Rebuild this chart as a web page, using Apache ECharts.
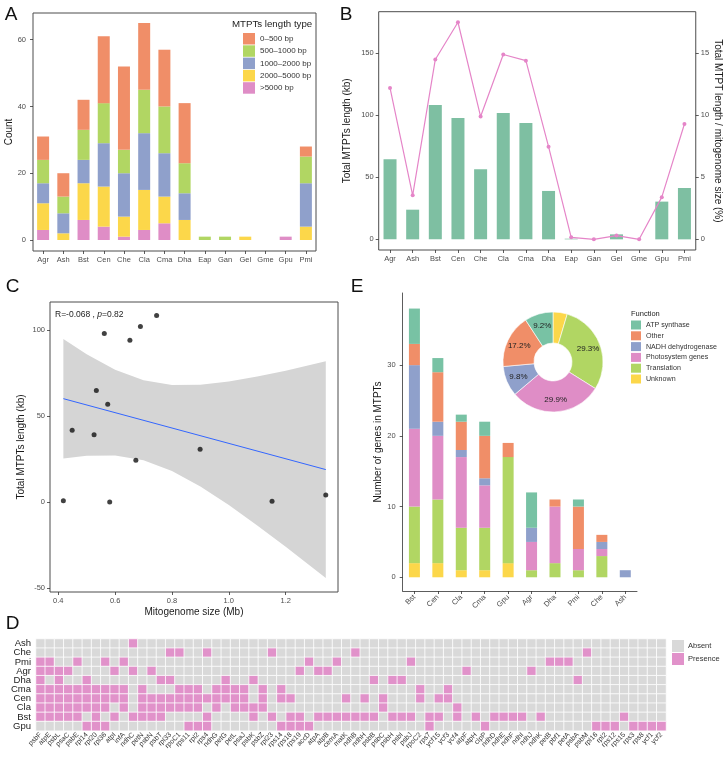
<!DOCTYPE html>
<html>
<head>
<meta charset="utf-8">
<script src="https://cdn.jsdelivr.net/npm/echarts@6/dist/echarts.min.js"></script>
<style>
  html, body { margin: 0; padding: 0; background: #fff; }
  #main { width: 724px; height: 757px; }
</style>
</head>
<body>
<div id="main"></div>
<script>
// ---- A: MTPT count by length class ----
const species = ['Agr', 'Ash', 'Bst', 'Cen', 'Che', 'Cla', 'Cma', 'Dha', 'Eap', 'Gan', 'Gel', 'Gme', 'Gpu', 'Pmi'];
const len0to500 = [7, 7, 9, 20, 25, 20, 17, 18, 0, 0, 0, 0, 0, 3];
const len500to1000 = [7, 5, 9, 12, 7, 13, 14, 9, 1, 1, 0, 0, 0, 8];
const len1000to2000 = [6, 6, 7, 13, 13, 17, 13, 8, 0, 0, 0, 0, 0, 13];
const len2000to5000 = [8, 2, 11, 12, 6, 12, 8, 6, 0, 0, 1, 0, 0, 4];
const lenOver5000 = [3, 0, 6, 4, 1, 3, 5, 0, 0, 0, 0, 0, 1, 0];

// ---- B: total length and share of mitogenome ----
const totalKb = [64.5, 23.9, 108.3, 97.8, 56.5, 101.9, 93.8, 39.0, 0.5, 0, 4.0, 0, 30.4, 41.4];
const ratioPct = [12.2, 3.55, 14.5, 17.5, 9.9, 14.9, 14.4, 7.47, 0.16, 0, 0.3, 0, 3.4, 9.3];

// ---- C: mitogenome size vs MTPT length ----
const mitoSizeMb = [0.418, 0.449, 0.526, 0.534, 0.562, 0.574, 0.581, 0.652, 0.673, 0.689, 0.746, 0.899, 1.152, 1.341];
const mtptKb = [0.8, 41.8, 39.2, 65.0, 98.2, 56.9, 0.0, 94.2, 24.3, 102.3, 108.7, 30.7, 0.4, 4.1];
const fitX = [0.418, 1.341];
const fitY = [60.2, 18.9];
const bandX = [0.418, 0.5, 0.6, 0.7, 0.8, 0.9, 1.0, 1.1, 1.2, 1.341];
const bandUpper = [95.0, 86.1, 77.1, 70.9, 68.1, 68.3, 70.2, 73.1, 76.5, 82.0];
const bandLower = [25.4, 26.9, 27.1, 24.3, 18.1, 9.1, -1.8, -13.7, -26.1, -44.2];

// ---- E: genes in MTPTs by function ----
const geneSpecies = ['Bst', 'Cen', 'Cla', 'Cma', 'Gpu', 'Agr', 'Dha', 'Pmi', 'Che', 'Ash'];
const fnUnknown = [2, 2, 1, 1, 2, 0, 0, 0, 0, 0];
const fnTranslation = [8, 9, 6, 6, 15, 1, 2, 1, 3, 0];
const fnPhotosystem = [11, 9, 10, 6, 0, 4, 8, 3, 1, 0];
const fnNADH = [9, 2, 1, 1, 0, 2, 0, 0, 1, 1];
const fnOther = [3, 7, 4, 6, 2, 0, 1, 6, 1, 0];
const fnATP = [5, 2, 1, 2, 0, 5, 0, 1, 0, 0];

// ---- D: gene presence ----
const genes = ['psbF', 'atpE', 'psbL', 'psaC', 'psbE', 'rpl14', 'rpl20', 'rpl36', 'atpI', 'infA', 'ndhC', 'petN', 'psbN', 'psbT',
  'rpl33', 'rpoC1', 'rps11', 'rpl2', 'rps4', 'ndhG', 'petG', 'petL', 'psaJ', 'psbK', 'psbZ', 'rpl23', 'rps14', 'rps18', 'rps19',
  'accD', 'atpA', 'atpB', 'cemA', 'matK', 'ndhB', 'ndhH', 'psbB', 'psbC', 'psbH', 'psbI', 'psbJ', 'rpoC2', 'rps7', 'ycf15', 'ycf3',
  'ycf4', 'atpF', 'atpH', 'clpP', 'ndhD', 'ndhE', 'ndhF', 'ndhI', 'ndhJ', 'ndhK', 'petB', 'pbf1', 'petA', 'psbA', 'psbM', 'rpl16',
  'rpl2', 'rps12', 'rps15', 'rps3', 'rps8', 'ycf1', 'ycf2'];
const heatRows = ['Ash', 'Che', 'Pmi', 'Agr', 'Dha', 'Cma', 'Cen', 'Cla', 'Bst', 'Gpu'];
const presAsh = ['ndhC'];
const presChe = ['rpl33', 'rpoC1', 'rps4', 'rpl23', 'ndhB', 'psbM'];
const presPmi = ['psbF', 'atpE', 'psbE', 'rpl36', 'infA', 'accD', 'cemA', 'psbJ', 'petB', 'pbf1', 'petA'];
const presAgr = ['psbF', 'atpE', 'psbL', 'psaC', 'atpI', 'ndhC', 'psbN', 'rps19', 'atpA', 'atpB', 'atpF', 'ndhJ'];
const presDha = ['psbF', 'psbL', 'rpl14', 'psbT', 'rpl33', 'petG', 'psbK', 'psbB', 'psbH', 'psbI', 'psbA'];
const presCma = ['psbF', 'atpE', 'psbL', 'psaC', 'psbE', 'rpl14', 'rpl20', 'rpl36', 'atpI', 'infA', 'petN', 'rpoC1', 'rps11',
  'rpl2', 'ndhG', 'petG', 'petL', 'psaJ', 'psbZ', 'rps14', 'rpoC2', 'ycf3'];
const presCen = ['psbF', 'atpE', 'psbL', 'psaC', 'psbE', 'rpl14', 'rpl20', 'rpl36', 'atpI', 'infA', 'petN', 'psbN', 'psbT', 'rpl33',
  'rpoC1', 'rps11', 'rpl2', 'rps4', 'ndhG', 'petG', 'petL', 'psaJ', 'psbZ', 'rps14', 'rps18', 'matK', 'ndhH', 'psbC', 'rpoC2',
  'ycf15', 'ycf3'];
const presCla = ['psbF', 'atpE', 'psbL', 'psaC', 'psbE', 'rpl14', 'rpl20', 'rpl36', 'infA', 'petN', 'psbN', 'psbT', 'rpl33', 'rpoC1',
  'rps11', 'rpl2', 'ndhG', 'petL', 'psaJ', 'psbK', 'psbZ', 'psbC', 'ycf4'];
const presBst = ['psbF', 'atpE', 'psbL', 'psaC', 'psbE', 'rpl20', 'atpI', 'ndhC', 'petN', 'psbN', 'psbT', 'rps4', 'psbK', 'rpl23',
  'rps18', 'rps19', 'atpA', 'atpB', 'cemA', 'matK', 'ndhB', 'ndhH', 'psbB', 'psbH', 'psbI', 'psbJ', 'rps7', 'ycf15', 'ycf4',
  'atpH', 'ndhD', 'ndhE', 'ndhF', 'ndhI', 'ndhK', 'rps15'];
const presGpu = ['rpl14', 'rpl20', 'rpl36', 'rps11', 'rpl2', 'rps4', 'rps14', 'rps18', 'rps19', 'accD', 'rps7', 'clpP', 'rpl16',
  'rpl2', 'rps12', 'rps3', 'rps8', 'ycf1', 'ycf2'];
const presence = [presAsh, presChe, presPmi, presAgr, presDha, presCma, presCen, presCla, presBst, presGpu];

const FONT = 'Liberation Sans, Arial, sans-serif';
const colOrange = '#F08E68', colGreen = '#B1D663', colBlue = '#8FA0CB', colYellow = '#FCD74A', colPink = '#DF8DC6', colTeal = '#78C2A4';

// heatmap cells; a name listed twice marks its second column too
let heatData = [];
presence.forEach((list, r) => {
  const row = genes.map(() => 0);
  list.forEach(name => {
    for (let j = 0; j < genes.length; j++) {
      if (genes[j] === name && row[j] === 0) { row[j] = 1; break; }
    }
  });
  row.forEach((v, c) => heatData.push([c, r, v]));
});

const sum = arr => arr.reduce((a, b) => a + b, 0);

const tickStyle = { show: true, length: 3, lineStyle: { color: '#333', width: 0.8 } };
const labelStyle = { fontSize: 7.5, color: '#4d4d4d', fontFamily: FONT };
const nameStyle = { fontSize: 10, color: '#1a1a1a', fontFamily: FONT };
const boxGrid = { show: true, borderColor: '#4d4d4d', borderWidth: 1, backgroundColor: 'transparent' };
const noLine = { show: false, onZero: false };

function valueAxis(grid, min, max, ticks, extra) {
  return Object.assign({
    gridIndex: grid, type: 'value', min: min, max: max,
    splitLine: { show: false }, axisLine: noLine,
    axisTick: Object.assign({ customValues: ticks }, tickStyle),
    axisLabel: Object.assign({ customValues: ticks, margin: 5 }, labelStyle),
    nameLocation: 'middle', nameTextStyle: nameStyle
  }, extra || {});
}
function catAxis(grid, data, extra) {
  return Object.assign({
    gridIndex: grid, type: 'category', data: data,
    axisLine: noLine,
    axisTick: Object.assign({ alignWithLabel: true }, tickStyle),
    axisLabel: Object.assign({ interval: 0, margin: 5 }, labelStyle)
  }, extra || {});
}

const panelLetter = (t, x, y) => ({
  type: 'text', x: x, y: y,
  style: { text: t, fontSize: 19, fontFamily: FONT, fill: '#111', textVerticalAlign: 'middle', textAlign: 'center' }
});

const option = {
  animation: false,
  textStyle: { fontFamily: FONT },
  grid: [
    Object.assign({ left: 33, top: 13, width: 283, height: 238 }, boxGrid),
    Object.assign({ left: 378.7, top: 11.7, width: 317.3, height: 238.3 }, boxGrid),
    Object.assign({ left: 50, top: 302, width: 288, height: 290 }, boxGrid),
    { left: 402.7, top: 293, width: 234.3, height: 298 },
    { left: 36, top: 639, width: 630, height: 91.7 }
  ],
  xAxis: [
    catAxis(0, species),
    catAxis(1, species),
    valueAxis(2, 0.371, 1.384, [0.4, 0.6, 0.8, 1.0, 1.2], {
      name: 'Mitogenome size (Mb)', nameGap: 15,
      axisLabel: Object.assign({ customValues: [0.4, 0.6, 0.8, 1.0, 1.2], margin: 5, formatter: v => v.toFixed(1) }, labelStyle)
    }),
    catAxis(3, geneSpecies, {
      axisLine: { show: true, onZero: false, lineStyle: { color: '#333', width: 0.8 } },
      axisLabel: Object.assign({ interval: 0, rotate: 45, margin: 5 }, labelStyle)
    }),
    {
      gridIndex: 4, type: 'category', data: genes,
      axisLine: noLine, axisTick: { show: false }, splitLine: { show: false },
      axisLabel: { interval: 0, rotate: 45, margin: 3, fontSize: 7, color: '#333', fontFamily: FONT }
    }
  ],
  yAxis: [
    valueAxis(0, -3.3, 68, [0, 20, 40, 60], { name: 'Count', nameGap: 14, axisLabel: Object.assign({ customValues: [0, 20, 40, 60], margin: 7 }, labelStyle) }),
    valueAxis(1, -8.6, 183.5, [0, 50, 100, 150], { name: 'Total MTPTs length (kb)', nameGap: 26 }),
    valueAxis(1, -0.86, 18.35, [0, 5, 10, 15], { position: 'right', name: 'Total MTPT length / mitogenome size (%)', nameRotate: -90, nameGap: 11 }),
    valueAxis(2, -52.4, 116.5, [-50, 0, 50, 100], { name: 'Total MTPTs length (kb)', nameGap: 24 }),
    valueAxis(3, -1.94, 40.2, [0, 10, 20, 30], {
      name: 'Number of genes in MTPTs', nameGap: 19,
      axisLine: { show: true, onZero: false, lineStyle: { color: '#333', width: 0.8 } },
      axisLabel: Object.assign({ customValues: [0, 10, 20, 30], margin: 7 }, labelStyle)
    }),
    {
      gridIndex: 4, type: 'category', data: heatRows, inverse: true,
      axisLine: noLine, axisTick: { show: false }, splitLine: { show: false },
      axisLabel: { interval: 0, margin: 5, fontSize: 9.5, color: '#222', fontFamily: FONT }
    }
  ],
  legend: [
    {
      data: ['0–500 bp', '500–1000 bp', '1000–2000 bp', '2000–5000 bp', '>5000 bp'],
      orient: 'vertical', left: 243, top: 33, padding: 0, icon: 'rect', itemWidth: 12, itemHeight: 11.5, itemGap: 0.8,
      selectedMode: false, textStyle: { fontSize: 8, color: '#333', fontFamily: FONT }
    },
    {
      data: ['ATP synthase', 'Other', 'NADH dehydrogenase', 'Photosystem genes', 'Translation', 'Unknown'],
      orient: 'vertical', left: 631, top: 320.5, padding: 0, icon: 'rect', itemWidth: 10, itemHeight: 9, itemGap: 1.8,
      selectedMode: false, textStyle: { fontSize: 7.1, color: '#333', fontFamily: FONT }
    }
  ],
  visualMap: [{
    type: 'piecewise', seriesIndex: 17, dimension: 2,
    pieces: [{ value: 0, label: 'Absent', color: '#D9D9D9' }, { value: 1, label: 'Presence', color: '#E192CA' }],
    orient: 'vertical', inverse: true, align: 'left', left: 672, top: 640, padding: 0, itemWidth: 12, itemHeight: 12, itemGap: 1,
    itemSymbol: 'rect', textGap: 4, selectedMode: false, textStyle: { fontSize: 7.5, color: '#333', fontFamily: FONT }
  }],
  graphic: [
    panelLetter('A', 11, 15),
    panelLetter('B', 346, 15),
    panelLetter('C', 12.5, 287),
    panelLetter('E', 357, 287),
    panelLetter('D', 12.5, 624),
    { type: 'text', left: 232, top: 19, style: { text: 'MTPTs length type', fontSize: 9.7, fill: '#222', fontFamily: FONT } },
    { type: 'text', left: 631, top: 309.5, style: { text: 'Function', fontSize: 7.5, fill: '#222', fontFamily: FONT } },
    {
      type: 'text', left: 55, top: 310,
      style: {
        text: '{n|R=-0.068 , }{i|p}{n|=0.82}',
        rich: { n: { fontSize: 8.5, fill: '#222', fontFamily: FONT }, i: { fontSize: 8.5, fill: '#222', fontStyle: 'italic', fontFamily: FONT } }
      }
    }
  ],
  series: [
    // A (0-4)
    { name: '>5000 bp', type: 'bar', stack: 'a', xAxisIndex: 0, yAxisIndex: 0, barWidth: 12, data: lenOver5000, itemStyle: { color: colPink } },
    { name: '2000–5000 bp', type: 'bar', stack: 'a', xAxisIndex: 0, yAxisIndex: 0, barWidth: 12, data: len2000to5000, itemStyle: { color: colYellow } },
    { name: '1000–2000 bp', type: 'bar', stack: 'a', xAxisIndex: 0, yAxisIndex: 0, barWidth: 12, data: len1000to2000, itemStyle: { color: colBlue } },
    { name: '500–1000 bp', type: 'bar', stack: 'a', xAxisIndex: 0, yAxisIndex: 0, barWidth: 12, data: len500to1000, itemStyle: { color: colGreen } },
    { name: '0–500 bp', type: 'bar', stack: 'a', xAxisIndex: 0, yAxisIndex: 0, barWidth: 12, data: len0to500, itemStyle: { color: colOrange } },
    // B (5-6)
    { type: 'bar', xAxisIndex: 1, yAxisIndex: 1, barWidth: 13, data: totalKb, itemStyle: { color: '#7EBFA2' } },
    {
      type: 'line', xAxisIndex: 1, yAxisIndex: 2, data: ratioPct, symbol: 'circle', symbolSize: 4,
      lineStyle: { color: '#E585C8', width: 1.2 }, itemStyle: { color: '#E585C8' }
    },
    // C (7-9)
    {
      type: 'custom', xAxisIndex: 2, yAxisIndex: 3, data: [[0.8, 30]], silent: true, z: 1,
      renderItem: (params, api) => {
        const pts = [];
        bandX.forEach((x, i) => pts.push(api.coord([x, bandUpper[i]])));
        for (let i = bandX.length - 1; i >= 0; i--) pts.push(api.coord([bandX[i], bandLower[i]]));
        return { type: 'polygon', shape: { points: pts }, style: { fill: '#D5D5D5' } };
      }
    },
    {
      type: 'line', xAxisIndex: 2, yAxisIndex: 3, data: fitX.map((x, i) => [x, fitY[i]]), symbol: 'none', z: 2,
      lineStyle: { color: '#3366FF', width: 1 }
    },
    {
      type: 'scatter', xAxisIndex: 2, yAxisIndex: 3, data: mitoSizeMb.map((x, i) => [x, mtptKb[i]]), symbolSize: 5, z: 3,
      itemStyle: { color: '#111' }
    },
    // E (10-16)
    { name: 'Unknown', type: 'bar', stack: 'e', xAxisIndex: 3, yAxisIndex: 4, barWidth: 11, data: fnUnknown, itemStyle: { color: colYellow } },
    { name: 'Translation', type: 'bar', stack: 'e', xAxisIndex: 3, yAxisIndex: 4, barWidth: 11, data: fnTranslation, itemStyle: { color: colGreen } },
    { name: 'Photosystem genes', type: 'bar', stack: 'e', xAxisIndex: 3, yAxisIndex: 4, barWidth: 11, data: fnPhotosystem, itemStyle: { color: colPink } },
    { name: 'NADH dehydrogenase', type: 'bar', stack: 'e', xAxisIndex: 3, yAxisIndex: 4, barWidth: 11, data: fnNADH, itemStyle: { color: colBlue } },
    { name: 'Other', type: 'bar', stack: 'e', xAxisIndex: 3, yAxisIndex: 4, barWidth: 11, data: fnOther, itemStyle: { color: colOrange } },
    { name: 'ATP synthase', type: 'bar', stack: 'e', xAxisIndex: 3, yAxisIndex: 4, barWidth: 11, data: fnATP, itemStyle: { color: colTeal } },
    {
      type: 'pie', center: [553, 362], radius: [19, 50], startAngle: 90, clockwise: true, percentPrecision: 1,
      itemStyle: { borderColor: '#fff', borderWidth: 0.6 },
      label: { position: 'inside', formatter: '{d}%', fontSize: 8, color: '#222', fontFamily: FONT },
      labelLine: { show: false },
      data: [
        { name: 'Unknown', value: sum(fnUnknown), itemStyle: { color: colYellow } },
        { name: 'Translation', value: sum(fnTranslation), itemStyle: { color: colGreen } },
        { name: 'Photosystem genes', value: sum(fnPhotosystem), itemStyle: { color: colPink } },
        { name: 'NADH dehydrogenase', value: sum(fnNADH), itemStyle: { color: colBlue } },
        { name: 'Other', value: sum(fnOther), itemStyle: { color: colOrange } },
        { name: 'ATP synthase', value: sum(fnATP), itemStyle: { color: colTeal } }
      ]
    },
    // D (17)
    {
      type: 'heatmap', xAxisIndex: 4, yAxisIndex: 5, data: heatData,
      itemStyle: { borderColor: '#fff', borderWidth: 0.8 }
    }
  ]
};

const chart = echarts.init(document.getElementById('main'));
chart.setOption(option);
</script>
</body>
</html>
